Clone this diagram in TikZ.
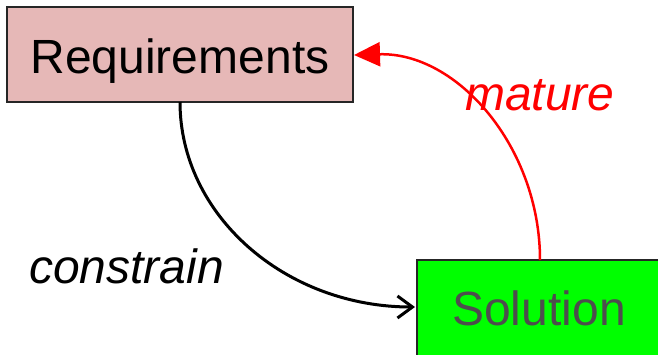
\documentclass[tikz,border=0pt]{standalone}
\usepackage{fontspec}
\setmainfont{Liberation Sans}
\usetikzlibrary{arrows.meta}
\definecolor{reqfill}{HTML}{E6B8B7}
\definecolor{solfill}{HTML}{00FF00}
\definecolor{soltext}{HTML}{4D4D4D}
\definecolor{matred}{HTML}{FF0000}
\tikzset{
  bigtext/.style={font=\fontsize{48}{57}\selectfont, inner sep=0pt},
  bigitalic/.style={font=\fontsize{48}{57}\selectfont\itshape, inner sep=0pt},
  boxstyle/.style={draw=black!85, line width=2pt, rectangle, inner sep=0pt},
}
\begin{document}
\begin{tikzpicture}[x=1pt,y=-1pt]
\useasboundingbox (0,0) rectangle (658,354);
\clip (0,0) rectangle (658,354);
\node[boxstyle, fill=reqfill, minimum width=346pt, minimum height=95pt] (req) at (180,54.5) {};
\node[bigtext, anchor=base] (reqt) at (180,73) {Requirements};
\node[boxstyle, fill=solfill, minimum width=244pt, minimum height=96pt] (sol) at (539,308) {};
\node[bigtext, anchor=base, text=soltext] (solt) at (539,325) {Solution};
\coordinate (reqb) at (180,102);
\coordinate (solr) at (415,307);
\coordinate (solt0) at (540,260);
\coordinate (reqr) at (354,55);
\draw[line width=3pt, -{Straight Barb[length=15pt,width=22pt,line width=3pt]}]
  (reqb) .. controls (180,215) and (285,307) .. (solr);
\draw[matred, line width=2.5pt, -{Triangle[length=26pt,width=24pt]}]
  (solt0) .. controls (540,147) and (457,52) .. (reqr);
\node[bigitalic, anchor=base west, text=matred] (mat) at (465,110) {mature};
\node[bigitalic, anchor=base west] (con) at (29,283) {constrain};
\end{tikzpicture}
\end{document}
